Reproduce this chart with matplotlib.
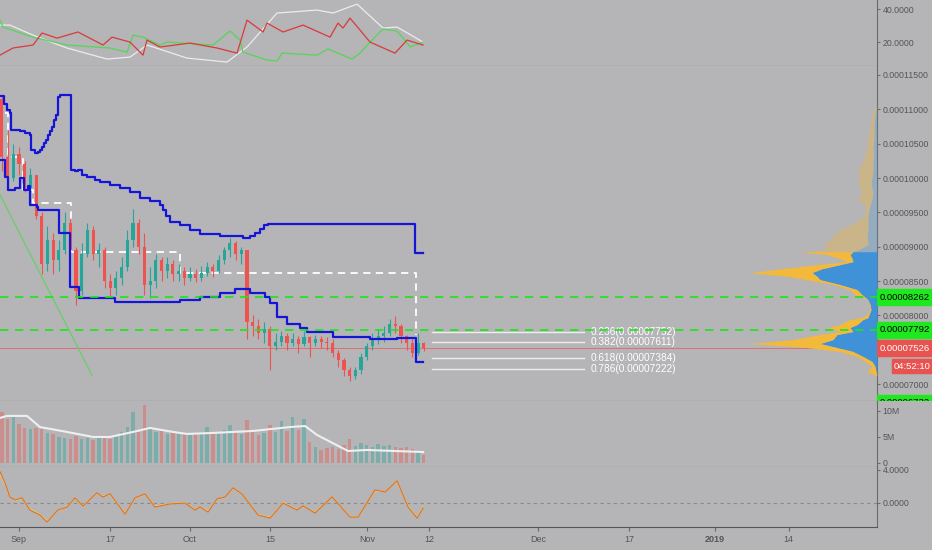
import matplotlib
matplotlib.use('Agg')
import matplotlib.pyplot as plt
from matplotlib.patches import Rectangle

plt.rcParams['font.family'] = ['Liberation Sans', 'DejaVu Sans']

# axe du temps : jours comptés depuis le 1er septembre 2018
tick_days = [0, 16, 30, 44, 61, 72, 91, 107, 122, 135]
tick_labels = ['Sep', '17', 'Oct', '15', 'Nov', '12', 'Dec', '17', '2019', '14']

# bougies journalières, prix en satoshis (1e-8)
candle_days = list(range(-3, 72))
first_open = 11150
closes = [10300, 10000, 10350, 10200, 9850, 10050, 9450, 8750, 9100, 8800,
          8950, 9350, 8950, 8350, 8900, 9250, 8900, 8950, 8500, 8400,
          8550, 8700, 9100, 9350, 9000, 8450, 8500, 8800, 8650, 8750,
          8600, 8650, 8550, 8600, 8550, 8620, 8700, 8650, 8800, 8950,
          9050, 8900, 8950, 7900, 7850, 7750, 7800, 7550, 7620, 7700,
          7600, 7650, 7580, 7680, 7600, 7650, 7620, 7600, 7450, 7350,
          7200, 7120, 7200, 7400, 7550, 7650, 7700, 7750, 7880, 7850,
          7700, 7600, 7450, 7600, 7526]
highs = [11200, 10700, 10500, 10450, 10250, 10150, 10000, 9500, 9300, 9200,
         9100, 9500, 9400, 9000, 9050, 9350, 9300, 9050, 9000, 8600,
         8650, 8850, 9250, 9550, 9400, 9200, 8700, 8900, 8850, 8850,
         8800, 8750, 8700, 8700, 8680, 8720, 8780, 8750, 8880, 9000,
         9130, 9080, 9000, 8950, 8000, 7950, 7900, 7850, 7750, 7780,
         7750, 7750, 7700, 7780, 7700, 7720, 7700, 7680, 7650, 7500,
         7380, 7250, 7250, 7450, 7600, 7750, 7800, 7850, 7950, 7990,
         7880, 7720, 7650, 7750, 7620]
lows = [10100, 9850, 9950, 10050, 9800, 9600, 9400, 8600, 8650, 8600,
        8650, 8900, 8800, 8150, 8300, 8850, 8800, 8700, 8400, 8250,
        8300, 8450, 8650, 9000, 8900, 8300, 8250, 8400, 8500, 8550,
        8500, 8500, 8450, 8500, 8480, 8500, 8580, 8560, 8620, 8750,
        8850, 8800, 8750, 7650, 7700, 7650, 7600, 7200, 7500, 7550,
        7500, 7550, 7450, 7550, 7400, 7550, 7520, 7500, 7400, 7250,
        7120, 7050, 7080, 7150, 7350, 7500, 7580, 7620, 7700, 7750,
        7600, 7500, 7400, 7420, 7480]
volumes = [9.8, 8.5, 8.8, 7.5, 6.7, 6.5, 6.8, 6.5, 5.8, 5.5,
           5.0, 4.8, 4.6, 5.2, 4.6, 4.8, 4.4, 4.8, 5.0, 4.6,
           5.2, 6.0, 7.0, 9.8, 6.0, 11.1, 6.5, 6.0, 6.2, 5.5,
           6.0, 5.5, 5.6, 5.4, 5.8, 5.6, 7.0, 5.5, 6.0, 6.4,
           7.2, 6.2, 5.6, 8.2, 6.0, 5.4, 5.8, 7.2, 6.0, 8.0,
           6.2, 8.8, 6.4, 8.4, 4.0, 3.0, 2.5, 2.8, 3.0, 2.6,
           3.5, 4.6, 3.2, 3.8, 3.4, 3.0, 3.6, 3.2, 3.5, 3.0,
           2.8, 3.0, 2.6, 2.2, 1.5]

# moyenne mobile du volume (millions)
vol_ma_days = [-3.33, -2.1, 1.4, 3.68, 8.42, 12.98, 15.96, 20.0, 22.98, 27.02,
               29.47, 34.04, 41.05, 47.54, 50.18, 52.28, 57.72, 61.05, 70.88]
vol_ma = [8.65, 9.04, 9.04, 6.9, 5.96, 5.0, 5.0, 5.96, 6.73, 5.96,
          5.58, 5.77, 6.15, 6.9, 7.1, 5.38, 2.3, 2.5, 2.1]

# canaux bleus en escalier
upper_days = [-3.33, -2.63, -2.63, -2.11, -1.58, -1.40, 0.18, 1.05, 1.93, 2.11,
              2.81, 3.33, 3.68, 4.04, 4.39, 4.74, 5.09, 5.44, 5.79, 6.14,
              6.49, 6.84, 7.19, 9.12, 9.12, 9.82, 10.35, 11.05, 11.93, 13.33,
              14.21, 15.96, 17.72, 19.47, 21.23, 22.98, 24.74, 25.26, 25.79, 26.49,
              28.25, 30.0, 31.75, 35.26, 38.77, 39.30, 40.53, 41.40, 42.28, 42.98,
              43.68, 69.47, 69.47, 70.88]
upper_vals = [11194, 11194, 11078, 10990, 10947, 10699, 10685, 10656, 10626, 10408,
              10364, 10379, 10408, 10452, 10510, 10554, 10626, 10685, 10743, 10845,
              10918, 11180, 11209, 11194, 10117, 10102, 10117, 10044, 10015, 9971,
              9942, 9898, 9855, 9796, 9709, 9665, 9607, 9534, 9447, 9360,
              9316, 9243, 9185, 9156, 9156, 9127, 9156, 9200, 9258, 9316,
              9331, 9331, 8908, 8908]
lower_days = [-3.33, -2.46, -1.93, -0.70, 0.18, 0.88, 1.58, 1.93, 3.16, 3.33,
              7.02, 7.02, 8.95, 8.95, 10.35, 10.53, 16.49, 16.84, 24.74, 28.25,
              31.75, 35.26, 37.89, 39.12, 40.53, 43.16, 44.04, 45.26, 47.02, 49.30,
              50.53, 55.09, 61.58, 66.32, 69.65, 69.65, 70.88]
lower_vals = [10262, 10015, 9826, 9855, 10000, 9826, 9884, 9607, 9578, 9534,
              9534, 9200, 9156, 8413, 8413, 8253, 8253, 8195, 8195, 8224,
              8268, 8326, 8384, 8384, 8326, 8268, 8180, 7977, 7875, 7817,
              7758, 7685, 7656, 7671, 7671, 7321, 7321]

# tracé blanc en tirets
dash_days = [-2.46, -1.93, -1.93, 0.70, 0.70, 2.46, 2.46, 9.12, 9.12, 28.25,
             28.25, 69.65, 69.65]
dash_vals = [10947, 10947, 10306, 10306, 9826, 9826, 9636, 9636, 8923, 8923,
             8617, 8617, 7714]

# ligne de tendance verte
trend_days = [-3.33, 12.8]
trend_vals = [9755, 7130]

# niveaux horizontaux
green_levels = [8262, 7792]
last_price = 7526
low_label = 6732
fib_ratios = [0.236, 0.382, 0.618, 0.786]
fib_prices = [7752, 7611, 7384, 7222]
fib_start, fib_end = 72.5, 99.1

# profil de volume (prix, volume acheteur, volume total)
prof_price = [11050, 10990, 10900, 10770, 10650, 10556, 10450, 10338, 10250, 10120,
              10000, 9902, 9800, 9684, 9600, 9466, 9350, 9248, 9150, 9080,
              9030, 8960, 8928, 8885, 8830, 8783, 8739, 8680, 8623, 8570,
              8521, 8449, 8376, 8303, 8231, 8158, 8080, 8013, 7969, 7940,
              7867, 7824, 7766, 7722, 7649, 7591, 7533, 7475, 7402, 7330,
              7257, 7185, 7120]
prof_up = [0, 1, 2, 3, 3, 3, 4, 3, 4, 4,
           5, 6, 4, 5, 7, 9, 9, 9, 10, 9,
           9, 18, 24, 27, 25, 24, 37, 55, 65, 60,
           57, 37, 20, 15, 9, 7, 6, 8, 9, 14,
           20, 27, 24, 40, 44, 57, 40, 24, 14, 5,
           2, 1, 0]
prof_total = [0, 4, 5, 7, 8, 10, 10, 12, 14, 19,
              18, 19, 15, 19, 12, 12, 22, 37, 45, 48,
              54, 50, 77, 50, 38, 30, 60, 95, 127, 90,
              70, 44, 27, 22, 9, 8, 7, 10, 15, 27,
              37, 49, 37, 57, 84, 127, 70, 37, 20, 12,
              5, 10, 0]
value_area_high = 8928

# panneau du haut (trois lignes)
top_white_days = [-3.33, -1.58, 2.46, 8.42, 15.44, 19.47, 22.46, 29.47, 36.49, 40.0,
                  45.26, 52.28, 55.09, 59.30, 63.86, 66.32, 70.88]
top_white = [30.3, 30.3, 24.2, 16.4, 9.7, 10.9, 18.2, 10.3, 7.9, 17.0,
             37.6, 39.4, 37.6, 43.0, 28.5, 29.1, 20.0]
top_red_days = [-3.33, -1.05, 2.46, 4.04, 6.67, 10.35, 14.74, 16.32, 19.47, 21.75,
                22.46, 24.74, 30.0, 34.74, 38.25, 40.0, 42.81, 43.51, 46.32, 49.82,
                54.56, 55.96, 56.84, 58.07, 61.58, 65.96, 68.07, 70.88]
top_red = [12.1, 16.4, 18.2, 25.5, 22.4, 26.1, 18.2, 23.0, 20.0, 12.1,
           21.2, 17.0, 19.4, 16.4, 13.3, 33.3, 26.1, 31.5, 26.1, 30.3,
           23.0, 31.5, 28.5, 34.5, 20.0, 13.3, 21.2, 18.2]
top_green_days = [-3.33, -2.81, 2.46, 8.42, 15.96, 18.95, 20.0, 21.75, 24.74, 25.96,
                  34.04, 37.02, 38.77, 39.30, 43.51, 45.26, 46.14, 52.28, 54.21, 58.42,
                  59.82, 61.58, 63.86, 66.32, 68.07, 68.6, 70.88]
top_green = [33.3, 29.1, 23.0, 18.2, 16.4, 13.9, 24.2, 23.0, 18.2, 20.0,
             18.2, 26.7, 21.2, 13.9, 9.1, 8.5, 13.3, 12.1, 15.8, 9.7,
             13.3, 20.0, 27.9, 26.7, 19.4, 17.0, 20.0]

# oscillateur du bas
osc_days = [-3.33, -2.46, -1.58, -0.70, 0.53, 1.93, 3.68, 4.91, 6.84, 8.42,
            9.82, 11.23, 13.68, 14.74, 15.96, 18.6, 20.35, 22.1, 23.86, 26.49,
            29.12, 30.88, 31.75, 33.16, 34.74, 36.14, 37.54, 39.12, 41.93, 44.04,
            46.32, 48.77, 49.82, 51.93, 54.91, 58.07, 59.47, 62.46, 64.21, 66.32,
            68.25, 69.82, 70.88]
osc_orange = [3.76, 2.42, 0.73, 0.36, 0.61, -0.85, -1.45, -2.3, -0.85, -0.48,
              0.61, -0.36, 1.21, 0.73, 1.09, -1.33, 0.61, 1.09, -0.48, -0.12,
              0.0, -0.85, -0.48, -1.09, 0.48, 0.73, 1.82, 1.09, -1.45, -1.82,
              0.0, -0.85, -0.36, -1.21, 0.73, -1.7, -1.7, 1.58, 1.33, 2.67,
              -0.48, -1.82, -0.6]
osc_yellow = [3.5, 2.3, 0.8, 0.3, 0.55, -0.75, -1.4, -2.2, -0.9, -0.4,
              0.55, -0.3, 1.15, 0.8, 1.0, -1.25, 0.55, 1.05, -0.4, -0.1,
              0.05, -0.8, -0.5, -1.0, 0.4, 0.75, 1.75, 1.1, -1.4, -1.75,
              0.05, -0.8, -0.4, -1.15, 0.7, -1.65, -1.65, 1.5, 1.35, 2.6,
              -0.4, -1.75, -0.5]

# ---------------------------------------------------------------
bg = '#b5b4b7'
red_c = '#ef5350'
teal_c = '#26a69a'
W, H = 932, 550
fig = plt.figure(figsize=(W / 100, H / 100), dpi=100, facecolor=bg)

right = 877 / W
def panel(top_px, bot_px):
    ax = fig.add_axes([0, 1 - bot_px / H, right, (bot_px - top_px) / H], facecolor=bg)
    return ax

ax_top = panel(0, 66)
ax_main = panel(66, 401)
ax_vol = panel(401, 467)
ax_osc = panel(467, 527)
axes = [ax_top, ax_main, ax_vol, ax_osc]

for ax in axes:
    ax.set_xlim(-3.33, 150.5)
    for s in ['left', 'top']:
        ax.spines[s].set_visible(False)
    ax.spines['right'].set_color('#6a6a6a')
    ax.spines['bottom'].set_color('#555555')
    ax.yaxis.tick_right()
    ax.tick_params(axis='y', colors='#6a6a6a', labelcolor='#555555',
                   labelsize=6.3, length=2.5, pad=1.5)
    ax.tick_params(axis='x', bottom=False, labelbottom=False)

# --- panneau du haut
ax_top.plot(top_white_days, top_white, color='#ececec', lw=0.9)
ax_top.plot(top_green_days, top_green, color='#55d655', lw=0.9)
ax_top.plot(top_red_days, top_red, color='#d93a3a', lw=0.9)
ax_top.set_ylim(5.5, 45.5)
ax_top.set_yticks([20, 40])
ax_top.set_yticklabels(['20.0000', '40.0000'])

# --- prix
opens = [first_open] + closes[:-1]
up = [c >= o for o, c in zip(opens, closes)]
ccol = [teal_c if u else red_c for u in up]
bottoms = [min(o, c) for o, c in zip(opens, closes)]
heights = [max(abs(c - o), 10) for o, c in zip(opens, closes)]
ax_main.vlines(candle_days, lows, highs, colors=ccol, lw=0.8, zorder=3)
ax_main.bar(candle_days, heights, bottom=bottoms, width=0.55, color=ccol, zorder=3)

ax_main.plot(trend_days, trend_vals, color='#5fd35f', lw=0.8, zorder=2)
ax_main.plot(dash_days, dash_vals, color='white', lw=1.3, ls=(0, (4, 3)), zorder=2)
ax_main.plot(upper_days, upper_vals, color='#1515d8', lw=1.6, drawstyle='steps-post', zorder=4)
ax_main.plot(lower_days, lower_vals, color='#1515d8', lw=1.6, drawstyle='steps-post', zorder=4)
ax_main.axhline(last_price, color=red_c, lw=0.6, alpha=0.8, zorder=1)

for r, p in zip(fib_ratios, fib_prices):
    ax_main.plot([fib_start, fib_end], [p, p], color='#eeeeee', lw=1)
    ax_main.text(fib_end + 1.1, p, f'{r:.3f}({p * 1e-8:.8f})', color='white',
                 fontsize=7.3, va='center', ha='left')

ax_main.set_ylim(6755, 11630)
price_ticks = list(range(7000, 11501, 500))
ax_main.set_yticks(price_ticks)
# l'étiquette 0.00007500 est cachée par la boîte du dernier prix
ax_main.set_yticklabels(['' if p == 7500 else f'{p * 1e-8:.8f}' for p in price_ticks])

# profil de volume
ax_prof = ax_main.twiny()
ax_prof.set_xlim(max(prof_total) / 0.145, 0)
ax_prof.axis('off')
va_idx = prof_price.index(value_area_high)
hi_p, hi_u, hi_t = prof_price[:va_idx + 1], prof_up[:va_idx + 1], prof_total[:va_idx + 1]
lo_p, lo_u, lo_t = prof_price[va_idx:], prof_up[va_idx:], prof_total[va_idx:]
ax_prof.fill_betweenx(hi_p, 0, hi_u, color='#5b9bd0', alpha=0.35, lw=0)
ax_prof.fill_betweenx(hi_p, hi_u, hi_t, color='#f2b93b', alpha=0.35, lw=0)
ax_prof.fill_betweenx(lo_p, 0, lo_u, color='#3f92d8', lw=0)
ax_prof.fill_betweenx(lo_p, lo_u, lo_t, color='#f2b93b', lw=0)
for g in green_levels:
    ax_prof.axhline(g, color='#19e619', lw=1.2, ls=(0, (5, 4)))

# étiquettes de prix sur l'axe droit
ax_lab = fig.add_axes([right, 1 - 401 / H, 1 - right, 335 / H])
ax_lab.set_xlim(0, 1)
ax_lab.set_ylim(ax_main.get_ylim())
ax_lab.axis('off')
sat_per_px = (11630 - 6755) / 335
box_h = 16 * sat_per_px
for p, fc, tc in [(green_levels[0], '#1ee81e', 'black'), (green_levels[1], '#1ee81e', 'black'),
                  (low_label, '#1ee81e', 'black'), (last_price, '#e8534f', 'white')]:
    ax_lab.add_patch(Rectangle((0, p - box_h / 2), 1, box_h, color=fc, clip_on=True))
    ax_lab.text(0.5, p, f'{p * 1e-8:.8f}', color=tc, fontsize=6.8, ha='center',
                va='center', clip_on=True)
tp = last_price - 18 * sat_per_px
ax_lab.add_patch(Rectangle((0.27, tp - 7 * sat_per_px), 0.73, 14 * sat_per_px, color='#e8534f'))
ax_lab.text(0.635, tp, '04:52:10', color='white', fontsize=6.8, ha='center', va='center')

# --- volume
vcol = [teal_c if u else red_c for u in up]
ax_vol.bar(candle_days, [v * 1e6 for v in volumes], width=0.6, color=vcol, alpha=0.4)
ax_vol.plot(vol_ma_days, [v * 1e6 for v in vol_ma], color='#efefef', lw=1.5)
ax_vol.set_ylim(-0.77e6, 11.9e6)
ax_vol.set_yticks([0, 5e6, 10e6])
ax_vol.set_yticklabels(['0', '5M', '10M'])

# --- oscillateur
ax_osc.axhline(0, color='#8a8a8a', lw=0.8, ls=(0, (3, 3)))
ax_osc.plot(osc_days, osc_yellow, color='#f2e06a', lw=0.9)
ax_osc.plot(osc_days, osc_orange, color='#e0722c', lw=0.9)
ax_osc.set_ylim(-2.91, 4.36)
ax_osc.set_yticks([0, 4])
ax_osc.set_yticklabels(['0.0000', '4.0000'])
ax_osc.tick_params(axis='x', bottom=True, labelbottom=True, colors='#6a6a6a',
                   labelcolor='#555555', labelsize=6.5, length=3, pad=3)
ax_osc.set_xticks(tick_days)
ax_osc.set_xticklabels(tick_labels)
for lab in ax_osc.get_xticklabels():
    if lab.get_text() == '2019':
        lab.set_fontweight('bold')

fig.savefig('out.png', dpi=100, facecolor=bg)
